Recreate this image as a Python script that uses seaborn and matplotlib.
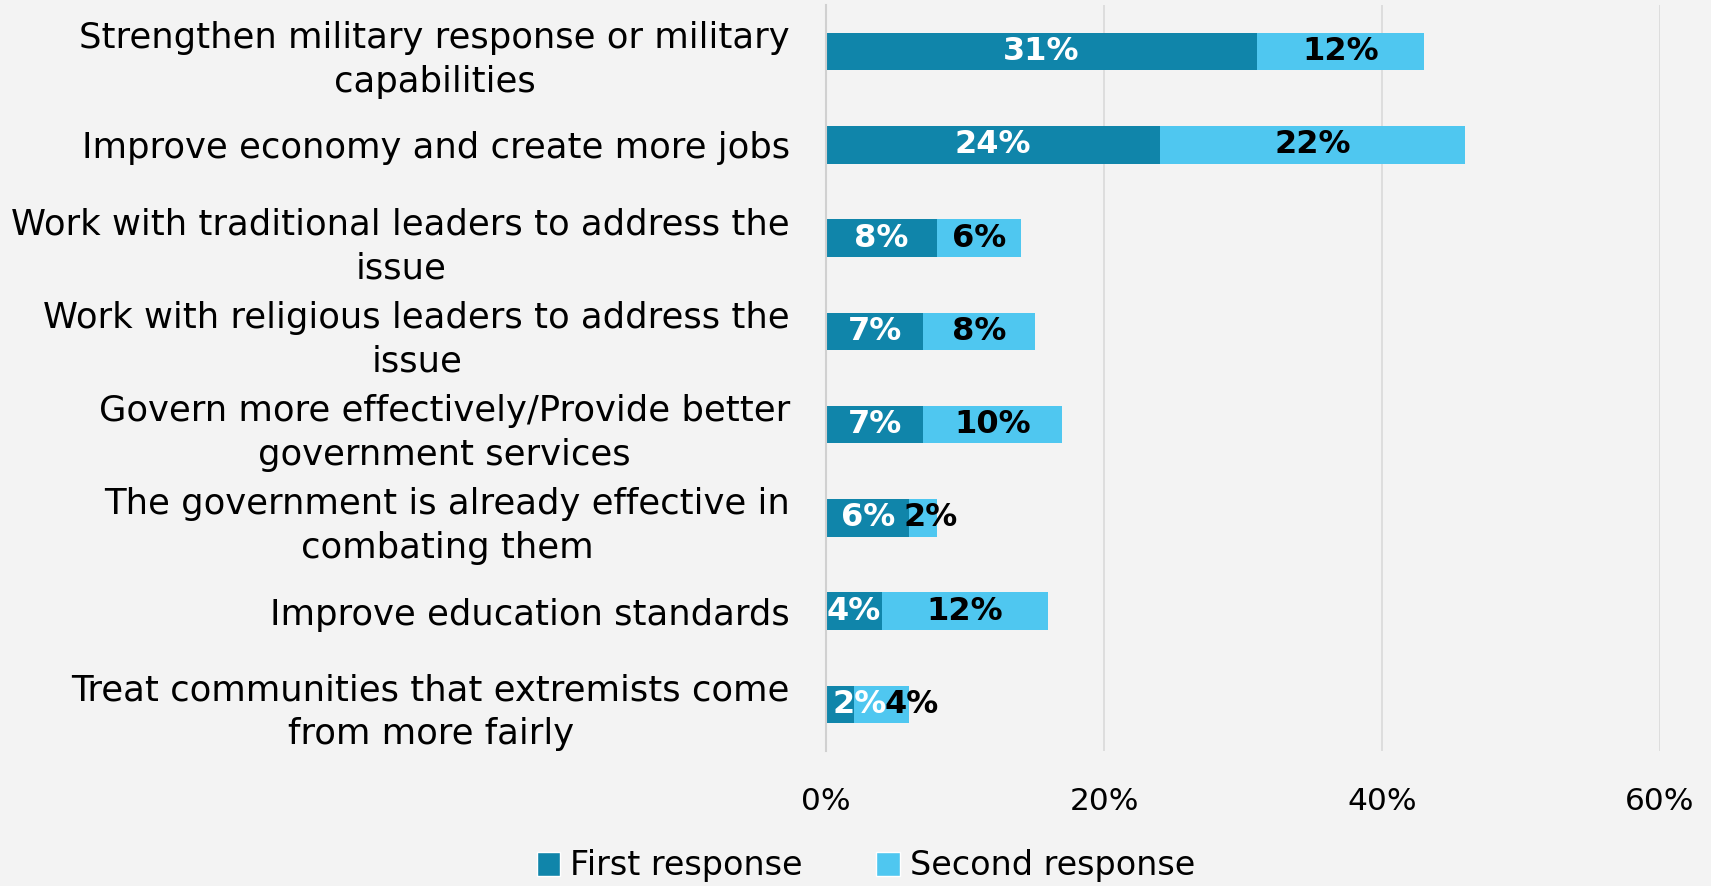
import matplotlib
matplotlib.use("Agg")
import matplotlib.pyplot as plt
from matplotlib.patches import Patch
import seaborn as sns
import pandas as pd

categories = [
    "Strengthen military response or military\ncapabilities",
    "Improve economy and create more jobs",
    "Work with traditional leaders to address the\nissue",
    "Work with religious leaders to address the\nissue",
    "Govern more effectively/Provide better\ngovernment services",
    "The government is already effective in\ncombating them",
    "Improve education standards",
    "Treat communities that extremists come\nfrom more fairly",
]
first_response = [31, 24, 8, 7, 7, 6, 4, 2]
second_response = [12, 22, 6, 8, 10, 2, 12, 4]
x_ticks = [0, 20, 40, 60]
x_tick_labels = ["0%", "20%", "40%", "60%"]

dark = "#1085AA"
light = "#4FC7F0"
bg = "#F3F3F3"

df = pd.DataFrame({
    "category": categories,
    "first": first_response,
    "second": second_response,
})
df["total"] = df["first"] + df["second"]

sns.set_theme(style="white")
plt.rcParams["font.family"] = ["DejaVu Sans"]

fig = plt.figure(figsize=(17.11, 8.86), dpi=100, facecolor=bg)
ax = fig.add_axes([826 / 1711, 1 - 751 / 886, (1660 - 826) / 1711, (751 - 5) / 886])
ax.set_facecolor(bg)

# stacked bars: full length in the light colour, first response drawn over it
sns.barplot(data=df, x="total", y="category", color=light, saturation=1,
            width=0.4, orient="h", ax=ax, linewidth=0)
sns.barplot(data=df, x="first", y="category", color=dark, saturation=1,
            width=0.4, orient="h", ax=ax, linewidth=0)

# small segments: nudge the labels sideways (in points) so they do not collide
nudges = {5: (0, 5), 7: (14, 22)}
for i, (f, s) in enumerate(zip(df["first"], df["second"])):
    d1, d2 = nudges.get(i, (0, 0))
    ax.annotate(f"{f}%", (f / 2, i), xytext=(d1, 0), textcoords="offset points",
                ha="center", va="center", color="white",
                fontsize=23, fontweight="bold")
    ax.annotate(f"{s}%", (f + s / 2, i), xytext=(d2, 0), textcoords="offset points",
                ha="center", va="center", color="black",
                fontsize=23, fontweight="bold")

ax.set_xlim(0, 60)
ax.set_ylim(7.5, -0.5)
ax.set_xticks(x_ticks)
ax.set_xticklabels(x_tick_labels)
ax.xaxis.grid(True, color="#D9D9D9", linewidth=1.2)
ax.set_axisbelow(True)
ax.set_xlabel("")
ax.set_ylabel("")
for side in ["top", "right", "bottom"]:
    ax.spines[side].set_visible(False)
ax.spines["left"].set_color("#D0D0D0")
ax.spines["left"].set_linewidth(1.5)

ax.tick_params(axis="y", length=0, pad=26, labelsize=25.5, labelcolor="black")
ax.tick_params(axis="x", length=0, pad=26, labelsize=22.5, labelcolor="black")
for lbl in ax.get_yticklabels():
    lbl.set_multialignment("center")
    lbl.set_linespacing(1.35)

handles = [Patch(facecolor=dark, label="First response"),
           Patch(facecolor=light, label="Second response")]
fig.legend(handles=handles, loc="center", bbox_to_anchor=(866 / 1711, 1 - 866 / 886),
           ncol=2, frameon=False, fontsize=24, handlelength=0.7, handleheight=0.7,
           handletextpad=0.3, columnspacing=2.2, labelcolor="black")

fig.savefig("out.png", dpi=100, facecolor=bg)
